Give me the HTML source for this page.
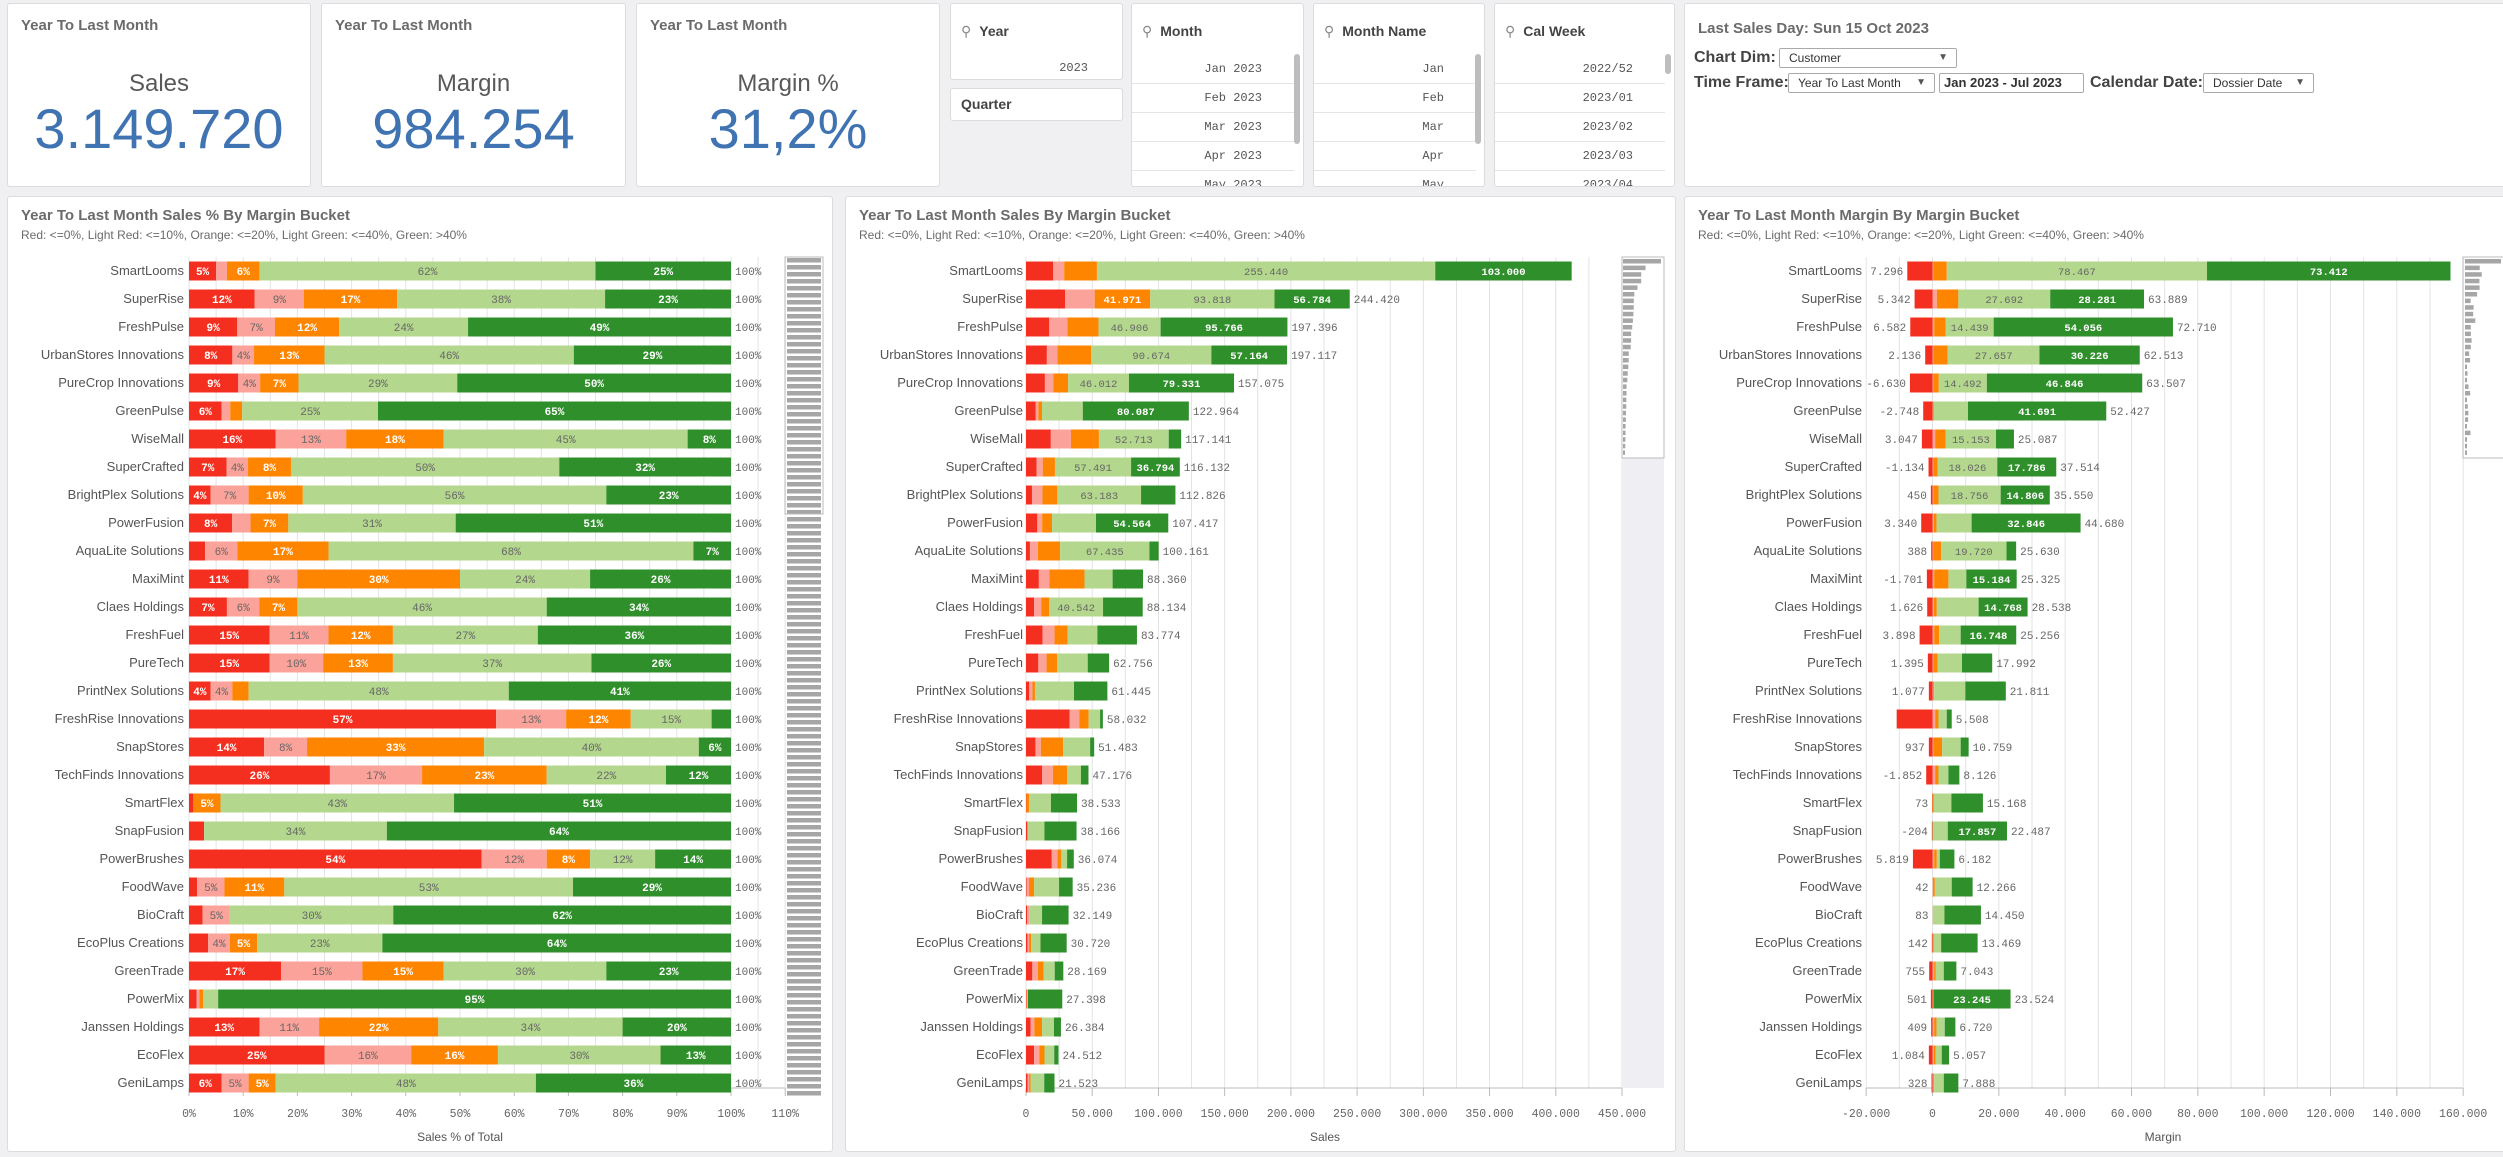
<!DOCTYPE html>
<html><head><meta charset="utf-8">
<style>
*{box-sizing:border-box;margin:0;padding:0}
body{width:2503px;height:1157px;background:#f0eff2;position:relative;overflow:hidden;font-family:"Liberation Sans Narrow","Liberation Sans",sans-serif;color:#595959}
.box{position:absolute;background:#fff;border:1px solid #dcdcdc;border-radius:3px}
.kt{position:absolute;left:13px;top:13px;font-weight:bold;font-size:15px;color:#6b6b6b}
.kl{position:absolute;left:0;right:0;top:66px;text-align:center;font-size:24px;color:#595959;font-family:"Liberation Sans",sans-serif}
.kv{position:absolute;left:0;right:0;top:92px;text-align:center;font-size:56px;color:#3f73b1;font-family:"Liberation Sans",sans-serif}
.fh{position:absolute;left:10px;top:19px;font-weight:bold;font-size:14px;color:#444}
.fh i{font-style:normal;color:#888;margin-right:8px;font-weight:normal}
.li{position:absolute;left:0;width:162px;height:29px;border-bottom:1px solid #e4e4e4;text-align:right;padding-right:32px;font-family:"Liberation Mono",monospace;font-size:12px;line-height:29px;color:#555}
.sb{position:absolute;width:6px;border-radius:3px;background:#bdbdbd}
.dd{position:absolute;border:1px solid #aaa;border-radius:2px;font-size:12px;line-height:18px;padding-left:9px;color:#333;background:#fff}
.dd b{position:absolute;right:8px;top:0;font-size:10px;color:#555}
.lab{position:absolute;font-weight:bold;font-size:16px;color:#444}
.pt{position:absolute;left:13px;top:10px;font-weight:bold;font-size:15px;color:#6b6b6b}
.ps{position:absolute;left:13px;top:31px;font-size:12px;color:#6b6b6b}
svg{position:absolute;left:0;top:0}
</style></head><body>
<div class="box" style="left:7px;top:3px;width:304px;height:184px"><div class="kt">Year To Last Month</div><div class="kl">Sales</div><div class="kv">3.149.720</div></div>
<div class="box" style="left:321px;top:3px;width:305px;height:184px"><div class="kt">Year To Last Month</div><div class="kl">Margin</div><div class="kv">984.254</div></div>
<div class="box" style="left:636px;top:3px;width:304px;height:184px"><div class="kt">Year To Last Month</div><div class="kl">Margin %</div><div class="kv">31,2%</div></div>

<div class="box" style="left:950px;top:3px;width:173px;height:77px"><div class="fh"><i>&#9906;</i>Year</div><div class="li" style="top:50px;border:none;padding-right:25px">2023</div></div>
<div class="box" style="left:950px;top:88px;width:173px;height:33px"><div class="fh" style="top:7px">Quarter</div></div>
<div class="box" style="left:1131px;top:3px;width:173px;height:184px;overflow:hidden"><div class="fh"><i>&#9906;</i>Month</div>
<div class="li" style="top:51px">Jan 2023</div><div class="li" style="top:80px">Feb 2023</div><div class="li" style="top:109px">Mar 2023</div><div class="li" style="top:138px">Apr 2023</div><div class="li" style="top:167px">May 2023</div><div class="sb" style="left:162px;top:50px;height:90px"></div></div>
<div class="box" style="left:1313px;top:3px;width:172px;height:184px;overflow:hidden"><div class="fh"><i>&#9906;</i>Month Name</div>
<div class="li" style="top:51px">Jan</div><div class="li" style="top:80px">Feb</div><div class="li" style="top:109px">Mar</div><div class="li" style="top:138px">Apr</div><div class="li" style="top:167px">May</div><div class="sb" style="left:161px;top:50px;height:90px"></div></div>
<div class="box" style="left:1494px;top:3px;width:181px;height:184px;overflow:hidden"><div class="fh"><i>&#9906;</i>Cal Week</div>
<div class="li" style="top:51px;width:170px">2022/52</div><div class="li" style="top:80px;width:170px">2023/01</div><div class="li" style="top:109px;width:170px">2023/02</div><div class="li" style="top:138px;width:170px">2023/03</div><div class="li" style="top:167px;width:170px">2023/04</div><div class="sb" style="left:170px;top:50px;height:20px"></div></div>

<div class="box" style="left:1684px;top:3px;width:825px;height:184px">
<div class="kt" style="top:16px">Last Sales Day: Sun 15 Oct 2023</div>
<div class="lab" style="left:9px;top:45px">Chart Dim:</div>
<div class="dd" style="left:94px;top:44px;width:178px;height:20px">Customer<b>&#9660;</b></div>
<div class="lab" style="left:9px;top:70px">Time Frame:</div>
<div class="dd" style="left:103px;top:69px;width:147px;height:20px">Year To Last Month<b>&#9660;</b></div>
<div class="dd" style="left:254px;top:69px;width:145px;height:20px;font-weight:bold;font-size:13px;padding-left:4px">Jan 2023 - Jul 2023</div>
<div class="lab" style="left:405px;top:70px">Calendar Date:</div>
<div class="dd" style="left:518px;top:69px;width:111px;height:20px">Dossier Date<b>&#9660;</b></div>
</div>

<div class="box" style="left:7px;top:196px;width:826px;height:956px"><div class="pt">Year To Last Month Sales % By Margin Bucket</div><div class="ps">Red: &lt;=0%, Light Red: &lt;=10%, Orange: &lt;=20%, Light Green: &lt;=40%, Green: &gt;40%</div></div>
<div class="box" style="left:845px;top:196px;width:831px;height:956px"><div class="pt">Year To Last Month Sales By Margin Bucket</div><div class="ps">Red: &lt;=0%, Light Red: &lt;=10%, Orange: &lt;=20%, Light Green: &lt;=40%, Green: &gt;40%</div></div>
<div class="box" style="left:1684px;top:196px;width:825px;height:956px"><div class="pt">Year To Last Month Margin By Margin Bucket</div><div class="ps">Red: &lt;=0%, Light Red: &lt;=10%, Orange: &lt;=20%, Light Green: &lt;=40%, Green: &gt;40%</div></div>

<svg id="ch" width="2503" height="1157"></svg>
<script>
const customers=["SmartLooms","SuperRise","FreshPulse","UrbanStores Innovations","PureCrop Innovations","GreenPulse","WiseMall","SuperCrafted","BrightPlex Solutions","PowerFusion","AquaLite Solutions","MaxiMint","Claes Holdings","FreshFuel","PureTech","PrintNex Solutions","FreshRise Innovations","SnapStores","TechFinds Innovations","SmartFlex","SnapFusion","PowerBrushes","FoodWave","BioCraft","EcoPlus Creations","GreenTrade","PowerMix","Janssen Holdings","EcoFlex","GeniLamps"];
const pctRed=[5,12,9,8,9,6,16,7,4,8,3,11,7,15,15,4,57,14,26,0.8,2.8,54,1.5,2.5,3.5,17,1.4,13,25,6];
const pctLightRed=[2,9,7,4,4,1.6,13,4,7,3.4,6,9,6,11,10,4,13,8,17,0,0,12,5,5,4,15,0.5,11,16,5];
const pctOrange=[6,17,12,13,7,2.2,18,8,10,7,17,30,7,12,13,3,12,33,23,5,0,8,11,0,5,15,0.7,22,16,5];
const pctLightGreen=[62,38,24,46,29,25,45,50,56,31,68,24,46,27,37,48,15,40,22,43,34,12,53,30,23,30,2.8,34,30,48];
const pctGreen=[25,23,49,29,50,65,8,32,23,51,7,26,34,36,26,41,3.6,6,12,51,64,14,29,62,64,23,95,20,13,36];
const salesTotal=[412000,244420,197396,197117,157075,122964,117141,116132,112826,107417,100161,88360,88134,83774,62756,61445,58032,51483,47176,38533,38166,36074,35236,32149,30720,28169,27398,26384,24512,21523];
const mRed=[-7600,-5400,-6700,-2200,-6800,-2800,-3200,-1200,-500,-3400,-400,-1700,-1600,-3900,-1400,-1100,-10800,-1100,-1900,-100,-200,-5900,0,0,-200,-1000,-500,-400,-1100,-300];
const mLightRed=[300,1300,500,300,300,100,800,300,300,400,200,500,400,500,300,200,800,300,800,0,0,500,100,100,100,500,0,500,400,200];
const mOrange=[4000,6500,3500,4300,1600,300,3200,1200,1500,800,2400,4300,900,1500,1200,300,1000,2600,1000,300,0,800,600,0,300,500,100,700,500,300];
const mLightGreen=[78467,27692,14439,27657,14492,10300,15153,18026,18756,10600,19720,5400,12600,6500,7400,9400,2500,5600,3000,5400,4600,900,5100,3500,2200,2400,200,2500,1900,2900];
const mGreen=[73412,28281,54056,30226,46846,41691,5400,17786,14806,32846,2900,15184,14768,16748,9100,12200,1500,2400,3300,9500,17857,4400,6300,11000,11000,3800,23245,3200,2200,4400];
const mLeftLabel=["7.296","5.342","6.582","2.136","-6.630","-2.748","3.047","-1.134","450","3.340","388","-1.701","1.626","3.898","1.395","1.077","","937","-1.852","73","-204","5.819","42","83","142","755","501","409","1.084","328"];
const mTotal=[null,63889,72710,62513,63507,52427,25087,37514,35550,44680,25630,25325,28538,25256,17992,21811,5508,10759,8126,15168,22487,6182,12266,14450,13469,7043,23524,6720,5057,7888];
const pctTicks=[0,10,20,30,40,50,60,70,80,90,100,110];
const salesTicks=[0,50000,100000,150000,200000,250000,300000,350000,400000,450000];
const marginTicks=[-20000,0,20000,40000,60000,80000,100000,120000,140000,160000];

const COL=["#f42f1f","#fba39a","#fe8500","#b4d78e","#2f8f2b"];
const TXT=["#fff","#666","#fff","#666","#fff"];
const NS="http://www.w3.org/2000/svg";
const svg=document.getElementById('ch');
function mk(t,a,p){const e=document.createElementNS(NS,t);for(const k in a)e.setAttribute(k,a[k]);(p||svg).appendChild(e);return e;}
function fmt(v){const s=Math.round(Math.abs(v)).toString().replace(/\B(?=(\d{3})+(?!\d))/g,".");return (v<0?"-":"")+s;}
const rowY=i=>271+i*28, BH=19, TOP=257, BASE=1088;
const pScale=v=>189+v*5.42;
const sScale=v=>1026+v*(596/450000);
const mScale=v=>1932.5+v*(597/180000);

function axis(scale,ticks,gridStep,gmin,gmax,lab,title,tx){
  for(let g=gmin;g<=gmax+1e-6;g+=gridStep){const l=mk('line',{x1:scale(g),x2:scale(g),y1:TOP,y2:BASE,stroke:'#e3e3e3','stroke-width':1});
    }
  const al=mk('line',{x1:scale(gmin),x2:scale(gmax),y1:BASE,y2:BASE,stroke:'#bbb'});
  
  ticks.forEach(t=>{mk('line',{x1:scale(t),x2:scale(t),y1:BASE,y2:BASE+8,stroke:'#bbb'});
    const e=mk('text',{x:scale(t),y:1117,'text-anchor':'middle','font-family':'Liberation Mono, monospace','font-size':11.5,fill:'#666'});
    e.textContent=lab(t);});
  const ti=mk('text',{x:tx,y:1141,'text-anchor':'middle','font-size':12,fill:'#555','font-family':'Liberation Sans Narrow, Liberation Sans, sans-serif'});
  ti.textContent=title;
}
function rowLabel(i,x){const e=mk('text',{x:x,y:rowY(i)+4,'text-anchor':'end','font-size':13,fill:'#555','font-family':'Liberation Sans Narrow, Liberation Sans, sans-serif'});
  e.textContent=customers[i];}
function seg(x0,x1,i,k,label,min,fs){
  const r=mk('rect',{x:Math.min(x0,x1),y:rowY(i)-BH/2,width:Math.max(0,Math.abs(x1-x0)),height:BH,fill:COL[k]});
  
  if(label!==null&&Math.abs(x1-x0)>=min){const t=mk('text',{x:(x0+x1)/2,y:rowY(i)+4,'text-anchor':'middle','font-family':'Liberation Mono, monospace','font-size':fs,fill:TXT[k],'font-weight':(k%2==0?'bold':'normal')});
    t.textContent=label;}
}
function vlabel(x,y,txt,anchor){const t=mk('text',{x:x,y:y,'text-anchor':anchor,'font-family':'Liberation Mono, monospace','font-size':11,fill:'#666'});
  t.textContent=txt;}

// chart 1
axis(pScale,pctTicks,5,0,110,t=>t+"%","Sales % of Total",460);
customers.forEach((c,i)=>{
  rowLabel(i,184);
  const p=[pctRed[i],pctLightRed[i],pctOrange[i],pctLightGreen[i],pctGreen[i]];
  const sum=p.reduce((a,b)=>a+b,0);let acc=0;
  p.forEach((v,k)=>{const n=v/sum*100;seg(pScale(acc),pScale(acc+n),i,k,Math.round(v)+"%",20,11);acc+=n;});
  vlabel(735,rowY(i)+4,"100%","start");
});
// minimap 1
for(let y=258;y<1094;y+=7){const r=mk('rect',{x:787,y:y,width:34,height:4.5,fill:'#a6a6a6'});}
const mm1=mk('rect',{x:785,y:257,width:38,height:257,fill:'none',stroke:'#bbb'});

// chart 2
axis(sScale,salesTicks,25000,0,450000,t=>fmt(t),"Sales",1325);
const bg2=mk('rect',{x:1623,y:458,width:41,height:630,fill:'#efeef2'});
customers.forEach((c,i)=>{
  rowLabel(i,1023);
  const p=[pctRed[i],pctLightRed[i],pctOrange[i],pctLightGreen[i],pctGreen[i]];
  const sum=p.reduce((a,b)=>a+b,0);let acc=0;
  p.forEach((v,k)=>{const s=salesTotal[i]*v/sum;seg(sScale(acc),sScale(acc+s),i,k,fmt(s),44,10.5);acc+=s;});
  if(sScale(salesTotal[i])+60<1622)vlabel(sScale(salesTotal[i])+4,rowY(i)+4,fmt(salesTotal[i]),"start");
  const mb=mk('rect',{x:1623,y:259+i*6.6,width:Math.max(2,salesTotal[i]/412000*38),height:4.5,fill:'#a6a6a6'});
  
});
const mm2=mk('rect',{x:1622,y:257,width:42,height:201,fill:'none',stroke:'#bbb'});

// chart 3
axis(mScale,marginTicks,10000,-20000,160000,t=>fmt(t),"Margin",2163);
customers.forEach((c,i)=>{
  rowLabel(i,1862);
  seg(mScale(mRed[i]),mScale(0),i,0,null,999,10.5);
  const pos=[mLightRed[i],mOrange[i],mLightGreen[i],mGreen[i]];let acc=0;
  pos.forEach((v,k)=>{seg(mScale(acc),mScale(acc+v),i,k+1,fmt(v),45,10.5);acc+=v;});
  if(mLeftLabel[i])vlabel(Math.min(mScale(mRed[i]),mScale(0))-4,rowY(i)+4,mLeftLabel[i],"end");
  if(mTotal[i]!==null)vlabel(mScale(acc)+4,rowY(i)+4,fmt(mTotal[i]),"start");
  const mb=mk('rect',{x:2465,y:259+i*6.6,width:Math.max(2,acc/156000*36),height:4.5,fill:'#a6a6a6'});
  
});
const mm3=mk('rect',{x:2463,y:257,width:42,height:201,fill:'none',stroke:'#bbb'});
</script>
</body></html>
